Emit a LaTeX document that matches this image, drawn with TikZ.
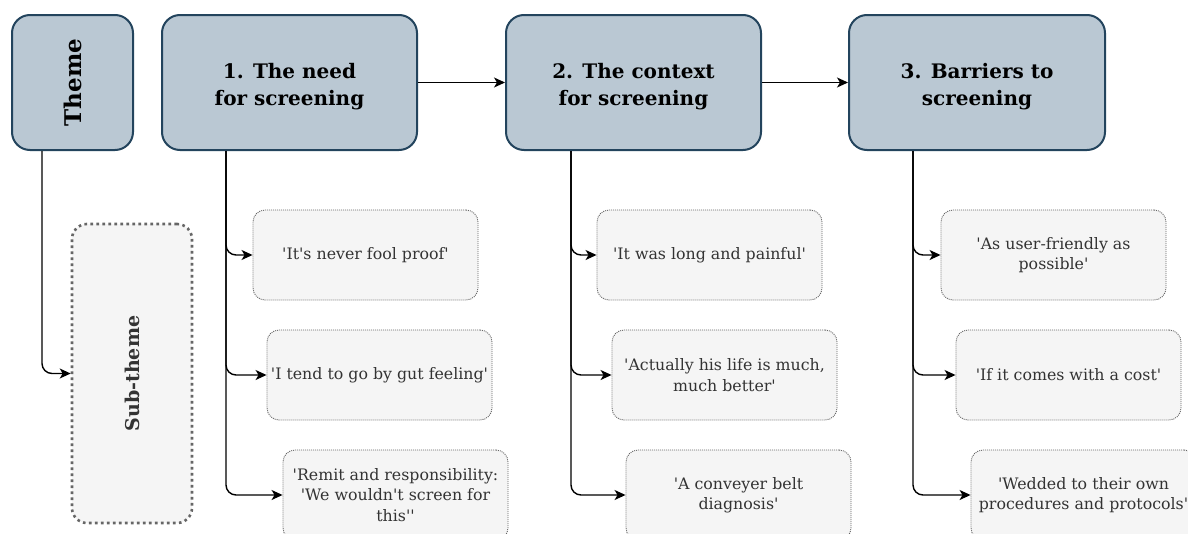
\documentclass[tikz,border=0pt]{standalone}
\usepackage{graphicx}
\usetikzlibrary{arrows.meta,calc}
\definecolor{themefill}{HTML}{BAC8D3}
\definecolor{themedraw}{HTML}{23445D}
\definecolor{subfill}{HTML}{F5F5F5}
\definecolor{subdraw}{HTML}{666666}
\definecolor{txt}{HTML}{333333}
\font\quotefont="DejaVu Serif" at 15.8pt
\font\titlefont="DejaVu Serif/B" at 20pt
\font\themefont="DejaVu Serif/B" at 23pt
\font\subfont="DejaVu Serif/B" at 19pt
\begin{document}
\begin{tikzpicture}[x=1pt,y=-1pt,
  theme/.style={draw=themedraw, fill=themefill, line width=2pt, rounded corners=18pt,
    inner sep=0pt},
  titletext/.style={align=center, inner sep=0pt, yshift=-4pt, font={\titlefont\baselineskip=27pt}},
  quote/.style={draw=subdraw, fill=subfill, line width=0.9pt, dash pattern=on 1pt off 1pt,
    rounded corners=12pt, minimum width=225pt, minimum height=90pt, inner sep=0pt,
    align=center, text=txt, font={\quotefont\baselineskip=20.5pt}},
  subbox/.style={draw=subdraw, fill=subfill, line width=2.6pt, dash pattern=on 2.6pt off 3.4pt,
    rounded corners=15pt, minimum width=120pt, minimum height=299pt, inner sep=0pt, text=txt},
  arr/.style={-{Stealth[length=11pt,width=10pt,inset=3pt]}, line width=1.4pt, rounded corners=10pt},
  flow/.style={-{Stealth[length=11pt,width=10pt,inset=3pt]}, line width=1.4pt}
]
\useasboundingbox (0,0) rectangle (1188,533);
\clip (0,0) rectangle (1188,533);

% theme boxes
\node[theme, minimum width=121pt, minimum height=135pt] (theme) at (72.5,82.5)
  {\themefont\rotatebox{90}{Theme}};
\node[theme, minimum width=255pt, minimum height=135pt,
  label={[titletext]center:1. The need\\for screening}] (b1) at (289.5,82.5) {};
\node[theme, minimum width=255pt, minimum height=135pt,
  label={[titletext]center:2. The context\\for screening}] (b2) at (633.5,82.5) {};
\node[theme, minimum width=256pt, minimum height=135pt,
  label={[titletext]center:3. Barriers to\\screening}] (b3) at (977,82.5) {};

% sub-theme
\node[subbox] (sub) at (132,373.5) {\subfont\rotatebox{90}{Sub-theme}};

% quotes column 1
\node[quote] (q11) at (365.5,255) {'It's never fool proof'};
\node[quote] (q12) at (379.5,375) {'I tend to go by gut feeling'};
\node[quote] (q13) at (395.5,495) {'Remit and responsibility:\\'We wouldn't screen for\\this''};
% column 2
\node[quote] (q21) at (709.5,255) {'It was long and painful'};
\node[quote] (q22) at (724.5,375) {'Actually his life is much,\\much better'};
\node[quote] (q23) at (738.5,495) {'A conveyer belt\\diagnosis'};
% column 3
\node[quote] (q31) at (1053.5,255) {'As user-friendly as\\possible'};
\node[quote] (q32) at (1068.5,375) {'If it comes with a cost'};
\node[quote] (q33) at (1083.5,495) {'Wedded to their own\\procedures and protocols'};

% flow arrows
\draw[flow] (b1.east) -- (b2.west);
\draw[flow] (b2.east) -- (b3.west);

% branch origins
\coordinate (t0) at ($(theme.south west)+(31,0)$);
\coordinate (t1) at ($(b1.south west)+(65,0)$);
\coordinate (t2) at ($(b2.south west)+(66,0)$);
\coordinate (t3) at ($(b3.south west)+(65,0)$);

\draw[arr] (t0) |- (sub.west);
\draw[arr] (t1) |- (q11.west);
\draw[arr] (t1) |- (q12.west);
\draw[arr] (t1) |- (q13.west);
\draw[arr] (t2) |- (q21.west);
\draw[arr] (t2) |- (q22.west);
\draw[arr] (t2) |- (q23.west);
\draw[arr] (t3) |- (q31.west);
\draw[arr] (t3) |- (q32.west);
\draw[arr] (t3) |- (q33.west);
\end{tikzpicture}
\end{document}
